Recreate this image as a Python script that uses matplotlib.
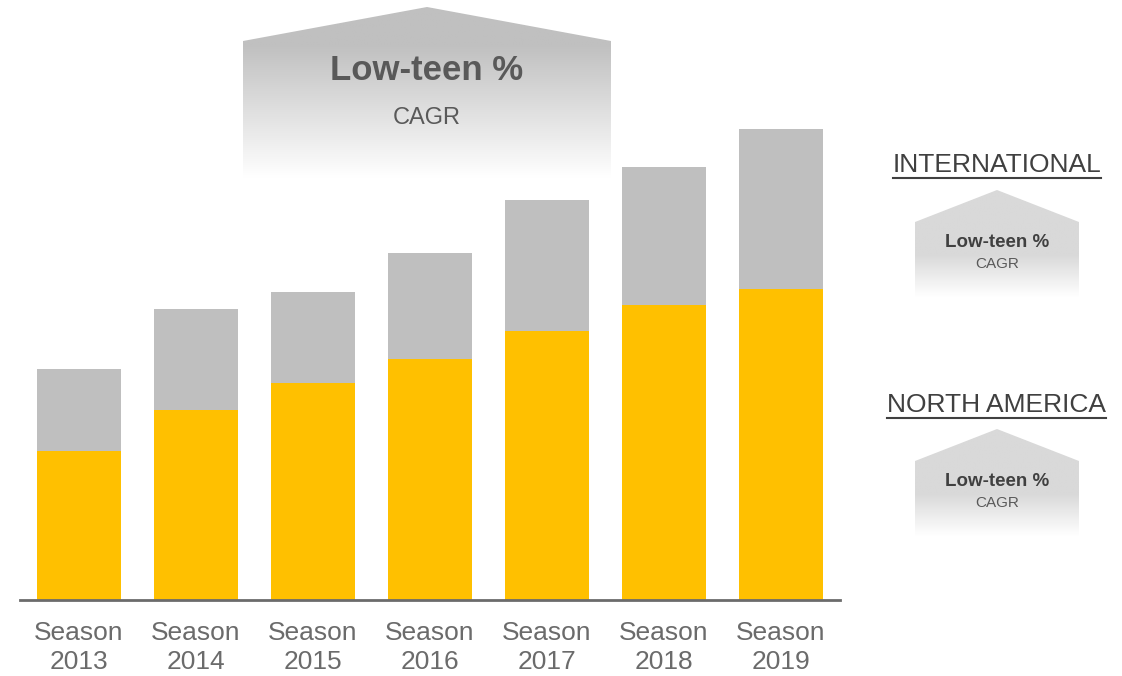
import numpy as np
import matplotlib.pyplot as plt
from matplotlib.patches import Polygon
from matplotlib.lines import Line2D

# revenue split per season (chart units, stacked)
seasons = ["Season\n2013", "Season\n2014", "Season\n2015", "Season\n2016",
           "Season\n2017", "Season\n2018", "Season\n2019"]
north_america = [149, 190, 217, 241, 269, 295, 311]
international = [82, 101, 91, 106, 131, 138, 160]

YELLOW = "#FFC000"
GREY = "#BFBFBF"
AXIS_GREY = "#6b6b6b"
TXT_DARK = "#404040"
TXT_MID = "#595959"

W, H = 1122, 676
FONT = ["Liberation Sans", "DejaVu Sans"]

fig = plt.figure(figsize=(W / 100, H / 100), dpi=100)

# --- stacked bars ---
ax = fig.add_axes([20 / W, 76 / H, 820 / W, 600 / H])
ax.patch.set_alpha(0)
x = np.arange(len(seasons))
ax.bar(x, north_america, width=0.718, color=YELLOW, zorder=2)
ax.bar(x, international, bottom=north_america, width=0.718, color=GREY, zorder=2)
ax.set_xlim(-0.504, 6.504)
ax.set_ylim(0, 600)
for s in ["top", "right", "left"]:
    ax.spines[s].set_visible(False)
ax.spines["bottom"].set_color(AXIS_GREY)
ax.spines["bottom"].set_linewidth(2)
ax.spines["bottom"].set_zorder(3)
ax.set_yticks([])
ax.set_xticks(x, seasons)
for lbl in ax.get_xticklabels():
    lbl.set_fontfamily(FONT)
    lbl.set_fontsize(19)
    lbl.set_color(AXIS_GREY)
    lbl.set_linespacing(1.28)
ax.tick_params(axis="x", length=0, pad=15)

# --- overlay in pixel coordinates for the CAGR callouts ---
ov = fig.add_axes([0, 0, 1, 1], zorder=-1)
ov.set_xlim(0, W)
ov.set_ylim(H, 0)
ov.axis("off")


def house(x0, x1, peak, shoulder, bottom, top_val, fade_start):
    xm = (x0 + x1) / 2
    poly = Polygon([(x0, bottom), (x0, shoulder), (xm, peak), (x1, shoulder), (x1, bottom)],
                   closed=True, facecolor="none", edgecolor="none")
    ov.add_patch(poly)
    ys = np.linspace(peak, bottom, 200)
    t = np.clip((ys - fade_start) / (bottom - fade_start), 0, 1)
    vals = top_val + (1 - top_val) * t
    img = np.repeat(vals[:, None], 2, axis=1)
    rgb = np.dstack([img, img, img])
    im = ov.imshow(rgb, extent=(x0, x1, bottom, peak), aspect="auto",
                   interpolation="bilinear", origin="upper")
    im.set_clip_path(poly)


house(243, 611, 7, 41, 178, 192 / 255, 45)
ov.text(427, 80, "Low-teen %", ha="center", va="baseline", fontsize=25,
        fontweight="bold", color=TXT_MID, family=FONT)
ov.text(427, 124, "CAGR", ha="center", va="baseline", fontsize=17,
        color=TXT_MID, family=FONT)

heads = []
for (peak, shoulder, bottom, head_y, title) in [(190, 222, 297, 172, "INTERNATIONAL"),
                                                 (429, 461, 536, 412, "NORTH AMERICA")]:
    house(915, 1079, peak, shoulder, bottom, 217 / 255, 255 + (peak - 190))
    t = ov.text(997, head_y, title, ha="center", va="baseline", fontsize=19,
                color=TXT_DARK, family=FONT)
    heads.append((t, head_y))
    ov.text(997, shoulder + 25, "Low-teen %", ha="center", va="baseline", fontsize=13.5,
            fontweight="bold", color=TXT_DARK, family=FONT)
    ov.text(997, shoulder + 46, "CAGR", ha="center", va="baseline", fontsize=11,
            color=TXT_MID, family=FONT)

# underline the region headings
fig.canvas.draw()
inv = ov.transData.inverted()
for t, y in heads:
    bb = t.get_window_extent()
    (xa, _), (xb, _) = inv.transform([(bb.x0, 0), (bb.x1, 0)])
    ov.add_line(Line2D([xa, xb], [y + 6, y + 6], color=TXT_DARK, lw=1.5))

fig.savefig("out.png", dpi=100)
